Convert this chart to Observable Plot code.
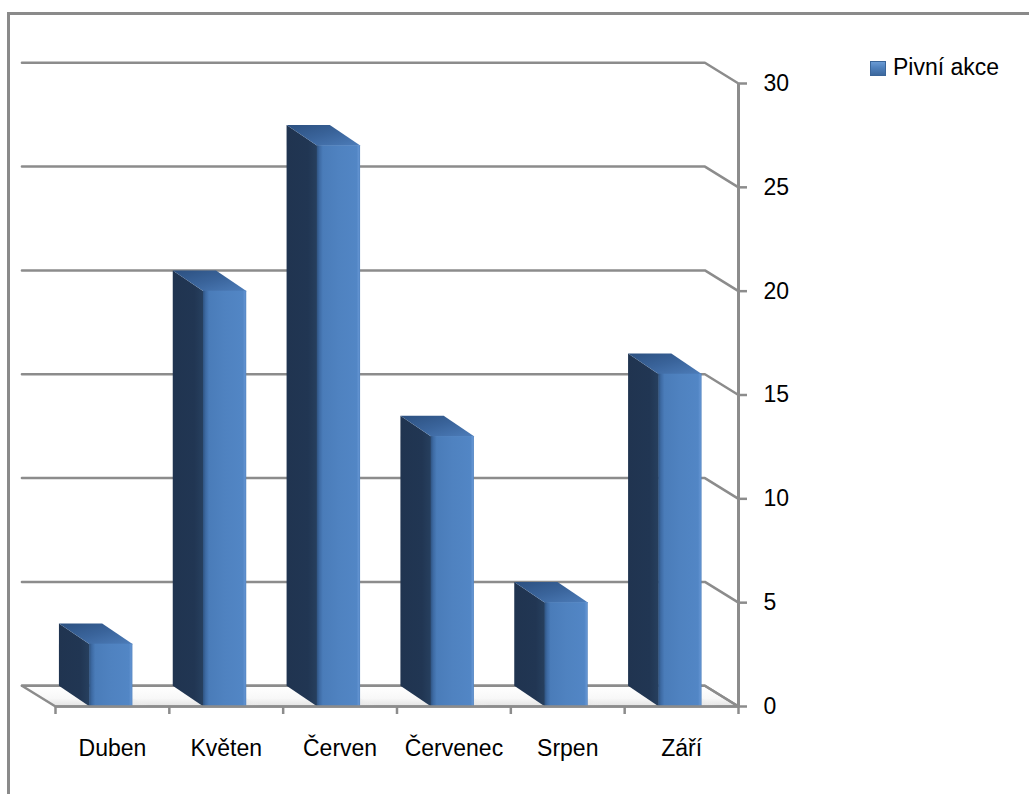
<!DOCTYPE html>
<html><head><meta charset="utf-8">
<script src="https://cdn.jsdelivr.net/npm/d3@7"></script>
<script src="https://cdn.jsdelivr.net/npm/@observablehq/plot@0.6"></script>
<style>
html,body{margin:0;padding:0;background:#fff;overflow:hidden;width:1029px;height:794px;}
#frame{position:absolute;left:7px;top:12px;width:1100px;height:900px;border-top:3px solid #8a8a8a;border-left:3px solid #8a8a8a;box-sizing:border-box;}
#chart{position:absolute;left:0;top:0;}
#legend{position:absolute;left:870px;top:54px;font:23px/26px "Liberation Sans",Arial,sans-serif;color:#000;display:flex;align-items:center;white-space:nowrap;}
#legend .sw{display:inline-block;width:16px;height:15px;margin-right:7px;margin-top:2px;background:linear-gradient(180deg,#6f9fd8 0%,#4f81bd 45%,#3a6599 100%);box-shadow:inset 0 0 0 1px #3a6599;}
</style></head><body>
<div id="frame"></div>
<div id="chart"></div>
<div id="legend"><span class="sw"></span><span id="legtext"></span></div>
<script>
// ---- data ----
const categories = ["Duben", "Květen", "Červen", "Červenec", "Srpen", "Září"];
const values = [3, 20, 27, 13, 5, 16];
const yTicks = [0, 5, 10, 15, 20, 25, 30];
const seriesName = "Pivní akce";

// ---- layout / 3D style constants ----
const W = 1029, H = 794;
const M = {top: 83, right: 291, bottom: 88, left: 55};
const WALL_DX = 0.295;   // oblique depth of wall/floor in category units
const DEPTH_DY = 1.0;    // oblique depth in value units
const BAR_DX = 0.27;
const BAR_L = -0.20, BAR_R = 0.18;
const GRID = "#8c8c8c";
const n = categories.length;

const bars = categories.map((c, i) => ({c, i, v: values[i], xl: i + BAR_L, xr: i + BAR_R}));

const sides = bars.flatMap(b => [
  {id: b.i, x: b.xl, y: 0}, {id: b.i, x: b.xl, y: b.v},
  {id: b.i, x: b.xl - BAR_DX, y: b.v + DEPTH_DY}, {id: b.i, x: b.xl - BAR_DX, y: DEPTH_DY}
]);
const tops = bars.flatMap(b => [
  {id: b.i, x: b.xl, y: b.v}, {id: b.i, x: b.xr, y: b.v},
  {id: b.i, x: b.xr - BAR_DX, y: b.v + DEPTH_DY}, {id: b.i, x: b.xl - BAR_DX, y: b.v + DEPTH_DY}
]);
const shadows = bars.flatMap(b => [
  {id: b.i, x: b.xr, y: 0}, {id: b.i, x: b.xr + 0.16, y: 0},
  {id: b.i, x: b.xr - BAR_DX + 0.02, y: DEPTH_DY}, {id: b.i, x: b.xr - BAR_DX, y: DEPTH_DY}
]);
const x0 = -0.5, x1 = n - 0.5;
const floor = [
  {x: x0, y: 0}, {x: x1, y: 0}, {x: x1 - WALL_DX, y: DEPTH_DY}, {x: x0 - WALL_DX, y: DEPTH_DY}
];
const grid = yTicks.flatMap(v => [
  {v, x: x0 - WALL_DX, y: v + DEPTH_DY}, {v, x: x1 - WALL_DX, y: v + DEPTH_DY}, {v, x: x1, y: v}
]);
const boundaries = categories.map((_, i) => i - 0.5).concat([n - 0.5]);

const plotH = H - M.top - M.bottom;

const chart = Plot.plot({
  width: W, height: H,
  marginTop: M.top, marginRight: M.right, marginBottom: M.bottom, marginLeft: M.left,
  style: {fontFamily: "'Liberation Sans', Arial, sans-serif", fontSize: "23px", background: "transparent", color: "#000"},
  x: {type: "linear", domain: [x0, x1], axis: null},
  y: {type: "linear", domain: [0, 30], axis: null},
  marks: [
    Plot.line(floor.concat([floor[0]]), {x: "x", y: "y", fill: "url(#gFloor)", stroke: GRID, strokeWidth: 2.5}),
    Plot.line(grid, {x: "x", y: "y", z: "v", stroke: GRID, strokeWidth: 2.5}),
    Plot.line(shadows, {x: "x", y: "y", z: "id", fill: "url(#gShadow)", stroke: "none"}),
    Plot.line(sides, {x: "x", y: "y", z: "id", fill: "url(#gSide)", stroke: "none"}),
    Plot.line(tops, {x: "x", y: "y", z: "id", fill: "url(#gTop)", stroke: "none"}),
    Plot.rect(bars, {x1: "xl", x2: "xr", y1: 0, y2: "v", fill: "url(#gFront)"}),
    Plot.ruleY([0], {x1: x0, x2: x1, stroke: GRID, strokeWidth: 2.5}),
    Plot.ruleX(boundaries, {x: d => d, insetTop: plotH, insetBottom: -8, stroke: GRID, strokeWidth: 2.5}),
    Plot.ruleX([x1], {y1: 0, y2: 30, stroke: GRID, strokeWidth: 3}),
    Plot.axisY(yTicks, {anchor: "right", tickSize: 8, tickPadding: 17, stroke: GRID, strokeWidth: 2.5, fill: "#000", label: null, tickFormat: d => String(d)}),
    Plot.text(bars, {x: "i", y: 0, text: "c", dy: 42, fill: "#000"})
  ]
});

const defs = `
<defs>
  <linearGradient id="gFront" x1="0" y1="0" x2="1" y2="0">
    <stop offset="0" stop-color="#2f5482"/>
    <stop offset="0.06" stop-color="#3d6aa3"/>
    <stop offset="0.14" stop-color="#4a7cb9"/>
    <stop offset="0.5" stop-color="#4f82c0"/>
    <stop offset="0.92" stop-color="#5286c5"/>
    <stop offset="0.97" stop-color="#6293d1"/>
    <stop offset="1" stop-color="#4f81bd"/>
  </linearGradient>
  <linearGradient id="gSide" x1="0" y1="0" x2="1" y2="0">
    <stop offset="0" stop-color="#203450"/>
    <stop offset="0.7" stop-color="#213653"/>
    <stop offset="1" stop-color="#27405f"/>
  </linearGradient>
  <linearGradient id="gTop" x1="0" y1="0" x2="1" y2="1">
    <stop offset="0" stop-color="#2c5080"/>
    <stop offset="0.5" stop-color="#3a649b"/>
    <stop offset="1" stop-color="#4d7dba"/>
  </linearGradient>
  <linearGradient id="gFloor" x1="0" y1="0" x2="0" y2="1">
    <stop offset="0" stop-color="#ffffff"/>
    <stop offset="0.6" stop-color="#f8f8f8"/>
    <stop offset="1" stop-color="#e2e2e2"/>
  </linearGradient>
  <linearGradient id="gShadow" x1="0" y1="0" x2="1" y2="0">
    <stop offset="0" stop-color="#bdbdbd" stop-opacity="0.8"/>
    <stop offset="1" stop-color="#ffffff" stop-opacity="0"/>
  </linearGradient>
</defs>`;
chart.insertAdjacentHTML("afterbegin", defs);
document.getElementById("chart").appendChild(chart);
document.getElementById("legtext").textContent = seriesName;
</script>
</body></html>
